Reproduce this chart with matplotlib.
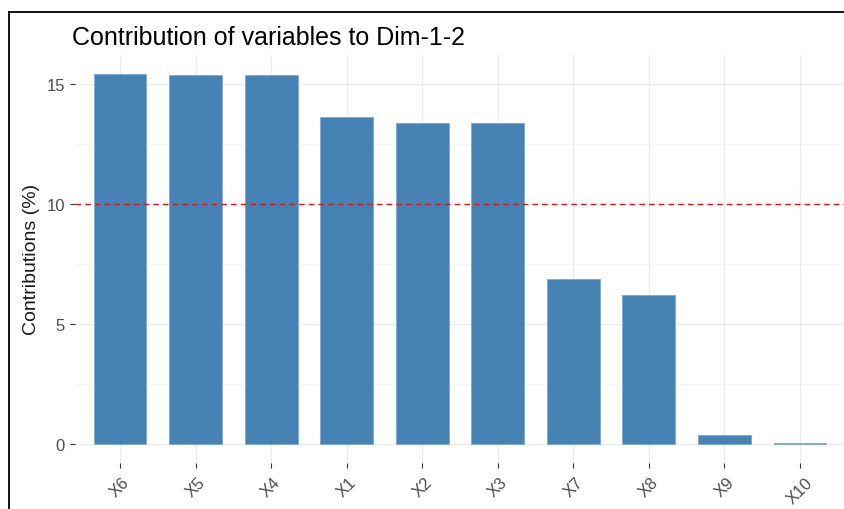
import matplotlib
matplotlib.use("Agg")
import matplotlib.pyplot as plt
from matplotlib.lines import Line2D
import numpy as np

plt.rcParams['font.family'] = ['Liberation Sans', 'DejaVu Sans']

variables = ["X6", "X5", "X4", "X1", "X2", "X3", "X7", "X8", "X9", "X10"]
contrib = [15.42, 15.36, 15.36, 13.63, 13.38, 13.34, 6.88, 6.19, 0.38, 0.04]
ref_line = 10.0
title = "Contribution of variables to Dim-1-2"
y_label = "Contributions (%)"

W, H = 845, 510
fig = plt.figure(figsize=(W / 100, H / 100), dpi=100)
fig.patch.set_facecolor("white")

# panel placement in pixels
left, right, top, bottom = 74.7, 845.3, 56, 463.5
ax = fig.add_axes([left / W, 1 - bottom / H, (right - left) / W, (bottom - top) / H])

x = np.arange(len(variables))
ax.bar(x, contrib, width=0.7, color="#4682B4", edgecolor="#7FA8CF", linewidth=0.6, zorder=3)
ax.axhline(ref_line, color="#D7191C", linestyle=(0, (4, 3)), linewidth=1.0, zorder=4)

ymax = max(contrib)
pad = 0.05 * ymax
ax.set_xlim(-0.6, len(variables) - 0.4)
ax.set_ylim(-pad, ymax + pad)

ax.set_yticks([0, 5, 10, 15])
ax.set_yticks([2.5, 7.5, 12.5], minor=True)
ax.set_xticks(x)
ax.set_xticklabels(variables, rotation=45, ha="center", va="top")

ax.grid(True, which="major", color="#EBEBEB", linewidth=1.0, zorder=0)
ax.grid(True, which="minor", axis="y", color="#F2F2F2", linewidth=0.6, zorder=0)
ax.set_axisbelow(True)
for s in ax.spines.values():
    s.set_visible(False)

ax.tick_params(axis="both", which="major", length=3.5, width=0.8, color="#333333",
               labelcolor="#4D4D4D", labelsize=12)
ax.tick_params(axis="x", pad=5)
ax.tick_params(axis="y", pad=3.5)
ax.tick_params(which="minor", length=0)

ax.set_ylabel(y_label, fontsize=14, color="#1A1A1A", labelpad=5)
fig.text(72 / W, 1 - 38 / H, title, fontsize=18, color="black", ha="left", va="center")

# screenshot frame (top and left edges)
fig.add_artist(Line2D([9.5 / W, 1], [1 - 13.3 / H, 1 - 13.3 / H], color="black", linewidth=1.3))
fig.add_artist(Line2D([9.5 / W, 9.5 / W], [0, 1 - 13.3 / H], color="black", linewidth=1.3))

fig.savefig("out.png", dpi=100, facecolor="white")
